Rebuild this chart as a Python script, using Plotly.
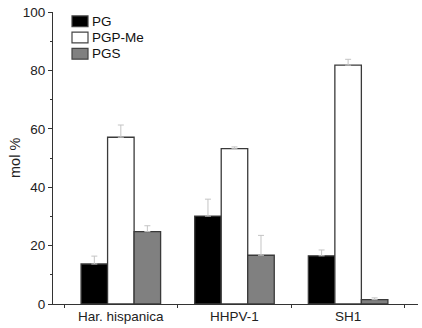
import plotly.graph_objects as go

categories = ["Har. hispanica", "HHPV-1", "SH1"]
series_names = ["PG", "PGP-Me", "PGS"]
pg = [13.7, 30.1, 16.5]
pg_err = [2.7, 5.8, 2.0]
pgpme = [57.1, 53.2, 81.8]
pgpme_err = [4.2, 0.6, 2.0]
pgs = [24.8, 16.7, 1.5]
pgs_err = [2.0, 6.8, 0.6]

colors = ["#000000", "#ffffff", "#808080"]
outline = "#3a3a3a"
errc = "#c4c4c4"

W, H = 422, 328
ML, MR, MT, MB = 53, 4, 12, 19
PW, PH = W - ML - MR, H - MT - MB

def bar(name, y, err, color):
    return go.Bar(
        name=name, x=categories, y=y,
        marker=dict(color=color, line=dict(color=outline, width=1.3)),
        error_y=dict(type="data", array=err, arrayminus=[0]*len(err), symmetric=False,
                     color=errc, thickness=1, width=3),
        showlegend=False,
    )

fig = go.Figure([
    bar(series_names[0], pg, pg_err, colors[0]),
    bar(series_names[1], pgpme, pgpme_err, colors[1]),
    bar(series_names[2], pgs, pgs_err, colors[2]),
])

# manual legend (pixel layout converted to paper coords)
def px2x(px):
    return (px - ML) / PW

def px2y(py):
    return (H - MB - py) / PH

shapes, annotations = [], []
for i, (nm, c) in enumerate(zip(series_names, colors)):
    top = 16 + 16.5 * i
    shapes.append(dict(type="rect", xref="paper", yref="paper",
                       x0=px2x(72), x1=px2x(88), y0=px2y(top + 11), y1=px2y(top),
                       fillcolor=c, line=dict(color="#444444", width=1.2)))
    annotations.append(dict(xref="paper", yref="paper", x=px2x(90), y=px2y(top + 5.5),
                            xanchor="left", yanchor="middle", text=nm, showarrow=False,
                            font=dict(family="Liberation Sans, Arial, sans-serif", size=13.5,
                                      color="#111111")))

# y-axis title
annotations.append(dict(xref="paper", yref="paper", x=px2x(15), y=0.5, xanchor="center",
                        yanchor="middle", text="mol %", textangle=-90, showarrow=False,
                        font=dict(family="Liberation Sans, Arial, sans-serif", size=14.5,
                                  color="#222222")))

fig.update_layout(
    width=W, height=H,
    margin=dict(l=ML, r=MR, t=MT, b=MB),
    paper_bgcolor="white", plot_bgcolor="white",
    barmode="group", bargap=0.3, bargroupgap=0,
    font=dict(family="Liberation Sans, Arial, sans-serif", size=13.5, color="#222222"),
    showlegend=False,
    shapes=shapes, annotations=annotations,
    xaxis=dict(range=[-0.597, 2.615], showline=True, linecolor="#333333", linewidth=1,
               ticks="outside", tickson="boundaries", ticklen=3, tickcolor="#333333",
               showgrid=False, zeroline=False, tickfont=dict(size=13.5)),
    yaxis=dict(range=[0, 100], showline=True, linecolor="#333333", linewidth=1,
               ticks="outside", ticklen=4, tickcolor="#333333", dtick=20,
               minor=dict(ticks="outside", ticklen=2, dtick=10, tickcolor="#333333"),
               showgrid=False, zeroline=False, tickfont=dict(size=13.5)),
)

fig.write_html("out.html")
